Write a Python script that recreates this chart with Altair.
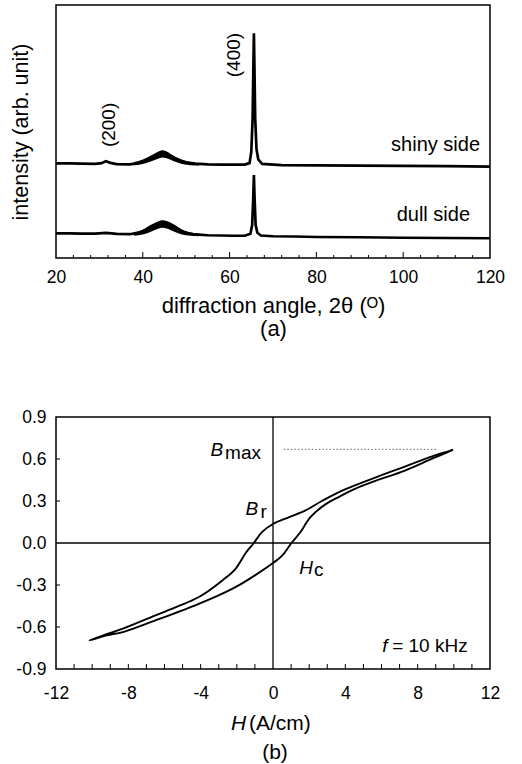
import altair as alt
import pandas as pd

FONT = "Liberation Sans"

# ---------------- Panel (a): XRD patterns ----------------
two_theta_shiny = [20, 23, 26, 29, 30.5, 31.5, 32.5, 34, 37, 39, 40.5, 42, 43, 44, 44.8, 45.6, 46.5, 48, 50, 52,
                   55, 58, 61, 63.5, 64.6, 65.0, 65.3, 65.5, 65.6, 65.7, 65.9, 66.2, 66.6, 67.5, 72, 80, 90, 100, 110, 120]
intensity_shiny = [37.4, 37.4, 37.3, 37.2, 37.5, 38.3, 37.6, 37.1, 37.0, 37.5, 38.3, 39.5, 40.4, 41.0, 41.3, 40.9, 40.2, 38.8, 37.8, 37.3,
                   37.0, 36.9, 36.9, 36.9, 37.5, 42.0, 55.0, 78.0, 88.8, 78.0, 55.0, 43.0, 39.0, 37.2, 36.7, 36.6, 36.5, 36.4, 36.3, 36.1]

two_theta_dull = [20, 23, 26, 29, 31.5, 34, 37, 39, 40.5, 42, 43, 44, 44.8, 45.6, 46.5, 48, 50, 52,
                  55, 58, 61, 63.5, 64.8, 65.2, 65.45, 65.6, 65.75, 66.0, 66.4, 67.2, 70, 75, 80, 90, 100, 110, 120]
intensity_dull = [9.7, 9.7, 9.6, 9.6, 9.9, 9.5, 9.4, 10.0, 11.0, 12.4, 13.3, 13.9, 14.0, 13.7, 12.9, 11.3, 9.9, 9.3,
                  9.0, 8.9, 8.8, 8.8, 9.6, 13.0, 24.0, 32.8, 24.0, 13.0, 10.0, 8.9, 8.6, 8.5, 8.3, 8.2, 8.0, 7.9, 7.8]

# noisy band around the broad amorphous hump (lower / upper envelopes)
band_theta = [38, 40, 42, 43.5, 44.5, 45.5, 47, 49, 51, 53]
shiny_lo = [36.7, 37.2, 38.2, 39.2, 39.7, 39.4, 38.3, 37.2, 36.7, 36.6]
shiny_hi = [37.9, 38.9, 40.6, 42.0, 42.6, 42.1, 40.5, 38.8, 37.8, 37.5]
dull_lo = [8.8, 9.3, 10.5, 11.6, 12.0, 11.7, 10.6, 9.3, 8.8, 8.6]
dull_hi = [10.0, 11.2, 13.2, 14.4, 14.9, 14.6, 13.4, 11.3, 10.1, 9.6]

a_tick_labels = [20, 40, 60, 80, 100, 120]
a_major_ticks = [40, 60, 80, 100]
a_minor_ticks = [24, 28, 32, 36, 44, 48, 52, 56, 64, 68, 72, 76, 84, 88, 92, 96, 104, 108, 112, 116]

peak_labels = ["(200)", "(400)"]
peak_label_theta = [32.2, 61.1]
peak_label_y = [52.6, 80.2]

side_labels = ["shiny side", "dull side"]
side_label_theta = [117.7, 115.4]
side_label_y = [42.3, 14.8]

# ---------------- Panel (b): B-H loop ----------------
loop_H = [9.95, 8.8, 7.33, 5.5, 3.65, 2.7, 1.8, 0.9, 0.0, -0.6, -1.06, -1.5, -2.07, -2.8, -4.1, -5.3, -6.5, -8.3, -9.24, -10.15,
          -9.2, -8.3, -6.5, -4.3, -2.8, -1.8, -1.0, 0.0, 0.52, 1.02, 1.5, 2.07, 2.8, 3.65, 4.5, 5.5, 7.33, 8.8, 9.95]
loop_B = [0.665, 0.619, 0.548, 0.46, 0.364, 0.30, 0.233, 0.185, 0.136, 0.079, 0.0, -0.07, -0.184, -0.267, -0.386, -0.455, -0.517, -0.612, -0.652, -0.695,
          -0.66, -0.636, -0.552, -0.445, -0.362, -0.295, -0.231, -0.143, -0.088, 0.0, 0.075, 0.184, 0.267, 0.33, 0.385, 0.436, 0.519, 0.602, 0.665]

bmax_H_start = [0.6]
bmax_H_end = [9.1]
bmax_B = [0.669]

b_x_labels = [-12, -8, -4, 0, 4, 8, 12]
b_y_labels = [-0.9, -0.6, -0.3, 0.0, 0.3, 0.6, 0.9]
b_x_ticks = [-11, -10, -9, -8, -7, -6, -5, -4, -3, -2, -1, 1, 2, 3, 4, 5, 6, 7, 8, 9, 10, 11]
b_y_ticks = [-0.6, -0.3, 0.3, 0.6]

ital_text = ["B", "B", "H", "f"]
ital_H = [-3.45, -1.52, 1.445, 6.04]
ital_B = [0.619, 0.198, -0.219, -0.779]
norm_text = ["max", "r", "c", "= 10 kHz"]
norm_H = [-2.65, -0.69, 2.27, 6.59]
norm_B = [0.600, 0.182, -0.238, -0.779]

x_title_b = ["H", "(A/cm)", "(b)"]

W = 434
HA = 253
HB = 252

# ---------- build panel (a) ----------
df_s = pd.DataFrame({"x": two_theta_shiny, "y": intensity_shiny})
df_d = pd.DataFrame({"x": two_theta_dull, "y": intensity_dull})
df_bs = pd.DataFrame({"x": band_theta, "y": shiny_lo, "y2": shiny_hi})
df_bd = pd.DataFrame({"x": band_theta, "y": dull_lo, "y2": dull_hi})
df_amaj = pd.DataFrame({"x": a_major_ticks})
df_amin = pd.DataFrame({"x": a_minor_ticks})
df_peak = pd.DataFrame({"x": peak_label_theta, "y": peak_label_y, "t": peak_labels})
df_side = pd.DataFrame({"x": side_label_theta, "y": side_label_y, "t": side_labels})

xa_scale = alt.Scale(domain=[20, 120], nice=False, zero=False)
ya_scale = alt.Scale(domain=[0, 100], nice=False)

xa = alt.X("x:Q", scale=xa_scale,
           axis=alt.Axis(values=a_tick_labels, ticks=False, domain=False, grid=False, labelFlush=False,
                         labelPadding=10, labelFontSize=17.5,
                         title=["diffraction angle, 2θ (ᴼ)", "(a)"], titleFontSize=22,
                         titleLineHeight=23, titlePadding=10))
ya = alt.Y("y:Q", scale=ya_scale,
           axis=alt.Axis(labels=False, ticks=False, domain=False, grid=False,
                         title="intensity (arb. unit)", titleFontSize=21.5, titlePadding=24))

line_s = alt.Chart(df_s).mark_line(color="black", strokeWidth=2.7).encode(x=xa, y=ya)
line_d = alt.Chart(df_d).mark_line(color="black", strokeWidth=2.7).encode(x="x:Q", y="y:Q")
band_s = alt.Chart(df_bs).mark_area(color="black", interpolate="monotone").encode(x="x:Q", y="y:Q", y2="y2:Q")
band_d = alt.Chart(df_bd).mark_area(color="black", interpolate="monotone").encode(x="x:Q", y="y:Q", y2="y2:Q")
tick_maj = alt.Chart(df_amaj).mark_rule(color="black", strokeWidth=1).encode(
    x="x:Q", y=alt.value(HA), y2=alt.value(HA - 6))
tick_min = alt.Chart(df_amin).mark_rule(color="black", strokeWidth=1).encode(
    x="x:Q", y=alt.value(HA), y2=alt.value(HA - 3))
peak_txt = alt.Chart(df_peak).mark_text(angle=270, align="center", baseline="middle",
                                        fontSize=19, font=FONT, color="black").encode(
    x="x:Q", y="y:Q", text="t:N")
side_txt = alt.Chart(df_side).mark_text(align="right", baseline="alphabetic",
                                        fontSize=20, font=FONT, color="black").encode(
    x="x:Q", y="y:Q", text="t:N")

panel_a = alt.layer(line_s, line_d, band_s, band_d, tick_maj, tick_min, peak_txt, side_txt).properties(
    width=W, height=HA)

# ---------- build panel (b) ----------
df_loop = pd.DataFrame({"x": loop_H, "y": loop_B, "i": list(range(len(loop_H)))})
df_bmax = pd.DataFrame({"x": bmax_H_start, "x2": bmax_H_end, "y": bmax_B})
df_zero = pd.DataFrame({"v": [0]})
df_bxt = pd.DataFrame({"x": b_x_ticks})
df_byt = pd.DataFrame({"y": b_y_ticks})
df_it = pd.DataFrame({"x": ital_H, "y": ital_B, "t": ital_text})
df_nt = pd.DataFrame({"x": norm_H, "y": norm_B, "t": norm_text})
df_one = pd.DataFrame({"k": [1]})

xb_scale = alt.Scale(domain=[-12, 12], nice=False, zero=False)
yb_scale = alt.Scale(domain=[-0.9, 0.9], nice=False, zero=False)

xb = alt.X("x:Q", scale=xb_scale,
           axis=alt.Axis(values=b_x_labels, ticks=False, domain=False, grid=False, labelFlush=False,
                         labelPadding=15, labelFontSize=17.5,
                         labelExpr="datum.value < 0 ? '-' + format(-datum.value, 'd') : format(datum.value, 'd')",
                         title=None))
yb = alt.Y("y:Q", scale=yb_scale,
           axis=alt.Axis(values=b_y_labels, ticks=False, domain=False, grid=False, labelFlush=False,
                         labelPadding=10, labelFontSize=17.5,
                         labelExpr="datum.value < -0.001 ? '-' + format(-datum.value, '.1f') : format(abs(datum.value), '.1f')",
                         title="B (T)", titleFontSize=20, titlePadding=20))

loop = alt.Chart(df_loop).mark_line(color="black", strokeWidth=1.9, interpolate="catmull-rom").encode(
    x=xb, y=yb, order="i:Q")
zero_h = alt.Chart(df_zero).mark_rule(color="black", strokeWidth=1.6).encode(y=alt.datum(0))
zero_v = alt.Chart(df_zero).mark_rule(color="black", strokeWidth=1.3).encode(x=alt.datum(0))
bmax_line = alt.Chart(df_bmax).mark_rule(color="#666666", strokeWidth=1, strokeDash=[1.5, 2]).encode(
    x="x:Q", x2="x2:Q", y="y:Q")
xt = alt.Chart(df_bxt).mark_rule(color="black", strokeWidth=1).encode(
    x="x:Q", y=alt.value(HB), y2=alt.value(HB - 5))
yt = alt.Chart(df_byt).mark_rule(color="black", strokeWidth=1).encode(
    y="y:Q", x=alt.value(0), x2=alt.value(4))
it_txt = alt.Chart(df_it).mark_text(align="left", baseline="alphabetic", fontSize=19, font=FONT,
                                    fontStyle="italic", color="black").encode(x="x:Q", y="y:Q", text="t:N")
nt_txt = alt.Chart(df_nt).mark_text(align="left", baseline="alphabetic", fontSize=19, font=FONT,
                                    color="black").encode(x="x:Q", y="y:Q", text="t:N")
title_H = alt.Chart(df_one).mark_text(align="left", baseline="alphabetic", fontSize=21, font=FONT,
                                      fontStyle="italic", color="black").encode(
    x=alt.value(175), y=alt.value(313), text=alt.value(x_title_b[0]))
title_unit = alt.Chart(df_one).mark_text(align="left", baseline="alphabetic", fontSize=21, font=FONT,
                                         color="black").encode(
    x=alt.value(193), y=alt.value(313), text=alt.value(x_title_b[1]))
title_b = alt.Chart(df_one).mark_text(align="center", baseline="alphabetic", fontSize=21, font=FONT,
                                      color="black").encode(
    x=alt.value(219), y=alt.value(342), text=alt.value(x_title_b[2]))

panel_b = alt.layer(zero_h, zero_v, bmax_line, loop, xt, yt, it_txt, nt_txt,
                    title_H, title_unit, title_b).properties(width=W, height=HB)

chart = alt.vconcat(panel_a, panel_b, spacing=66).properties(
    padding={"left": -25, "top": 4, "right": 0, "bottom": 0}
).configure_view(stroke="black", strokeWidth=1.5).configure_axis(
    labelFont=FONT, titleFont=FONT, labelColor="black", titleColor="black", titleFontWeight="normal"
)

chart.save("out.html", embed_options={"renderer": "svg", "actions": False})
